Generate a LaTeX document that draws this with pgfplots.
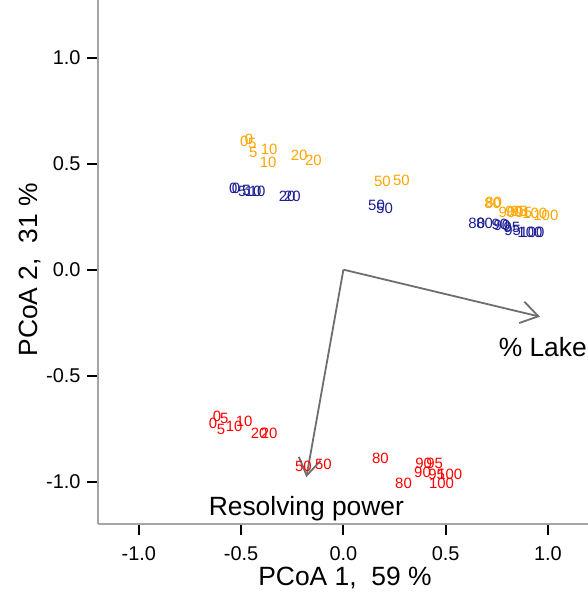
\documentclass[border=0pt]{standalone}
\usepackage{fontspec}
\setmainfont{Liberation Sans}
\usepackage{pgfplots}
\usepackage{pgfplotstable}
\pgfplotsset{compat=1.18}
\usetikzlibrary{arrows.meta}
\definecolor{ptorange}{RGB}{255,165,0}
\definecolor{ptblue}{RGB}{30,30,150}
\definecolor{ptred}{RGB}{255,0,0}
\definecolor{arrgray}{RGB}{110,110,110}
\definecolor{axgray}{RGB}{165,165,165}

\pgfplotstableread{
x y label
-0.485 0.605 0
-0.461 0.615 0
-0.446 0.596 5
-0.441 0.553 5
-0.363 0.567 10
-0.368 0.506 10
-0.216 0.539 20
-0.147 0.515 20
0.191 0.416 50
0.284 0.421 50
0.730 0.312 80
0.735 0.317 80
0.799 0.270 90
0.833 0.274 90
0.858 0.274 95
0.882 0.270 95
0.936 0.265 100
0.990 0.255 100
}\orangedata

\pgfplotstableread{
x y label
-0.539 0.383 0
-0.525 0.383 0
-0.495 0.369 5
-0.475 0.374 5
-0.441 0.369 10
-0.422 0.369 10
-0.275 0.345 20
-0.250 0.345 20
0.162 0.303 50
0.201 0.288 50
0.652 0.217 80
0.691 0.217 80
0.765 0.213 90
0.775 0.208 90
0.824 0.199 95
0.828 0.184 95
0.912 0.175 100
0.922 0.175 100
}\bluedata

\pgfplotstableread{
x y label
-0.618 -0.690 0
-0.637 -0.723 0
-0.583 -0.704 5
-0.598 -0.752 5
-0.534 -0.738 10
-0.485 -0.714 10
-0.412 -0.771 20
-0.363 -0.771 20
-0.196 -0.927 50
-0.098 -0.917 50
0.181 -0.889 80
0.294 -1.007 80
0.392 -0.913 90
0.387 -0.955 90
0.446 -0.913 95
0.456 -0.965 95
0.520 -0.965 100
0.480 -1.007 100
}\reddata

\begin{document}
\begin{tikzpicture}
\begin{axis}[
  at={(98bp,69bp)}, anchor=south west,
  scale only axis, width=490bp, height=524bp,
  xmin=-1.2, xmax=1.196, ymin=-1.2, ymax=1.272,
  axis x line=bottom, axis y line=left,
  axis line style={-, axgray, line width=1.5bp},
  xtick={-1,-0.5,0,0.5,1}, xticklabels={-1.0,-0.5,0.0,0.5,1.0},
  ytick={-1,-0.5,0,0.5,1}, yticklabels={-1.0,-0.5,0.0,0.5,1.0},
  tick align=outside, major tick length=11bp,
  every tick/.style={black, line width=2bp},
  ticklabel style={font=\fontsize{20}{24}\selectfont},
  xticklabel style={yshift=-8bp},
  yticklabel style={xshift=-3bp},
  xlabel={PCoA 1,\ \ 59 \%}, ylabel={PCoA 2,\ \ 31 \%},
  label style={font=\fontsize{26.5}{31}\selectfont},
  xlabel style={at={(axis description cs:0.504,-0.103)}, anchor=center},
  ylabel style={at={(axis description cs:-0.139,0.485)}, anchor=center},
  clip=false,
]
\addplot[arrgray, line width=1.8bp, -{Straight Barb[length=17bp,width=22bp,line width=1.8bp]}] coordinates {(0,0) (0.961,-0.222)};
\addplot[arrgray, line width=1.8bp, -{Straight Barb[length=17bp,width=22bp,line width=1.8bp]}] coordinates {(0,0) (-0.181,-0.979)};

\addplot[only marks, mark=none, point meta=explicit symbolic, nodes near coords,
  every node near coord/.append style={anchor=center, text=ptorange, inner sep=0pt, font=\fontsize{15}{17}\selectfont}]
  table[meta=label] {\orangedata};
\addplot[only marks, mark=none, point meta=explicit symbolic, nodes near coords,
  every node near coord/.append style={anchor=center, text=ptblue, inner sep=0pt, font=\fontsize{15}{17}\selectfont}]
  table[meta=label] {\bluedata};
\addplot[only marks, mark=none, point meta=explicit symbolic, nodes near coords,
  every node near coord/.append style={anchor=center, text=ptred, inner sep=0pt, font=\fontsize{15}{17}\selectfont}]
  table[meta=label] {\reddata};

\node[font=\fontsize{26.5}{31}\selectfont, anchor=center] at (axis cs:0.975,-0.364) {\% Lake};
\node[font=\fontsize{26.5}{31}\selectfont, anchor=center] at (axis cs:-0.181,-1.130) {Resolving power};
\end{axis}
\pgfresetboundingbox
\path[use as bounding box] (0,0) rectangle (588bp,593bp);
\end{tikzpicture}
\end{document}
